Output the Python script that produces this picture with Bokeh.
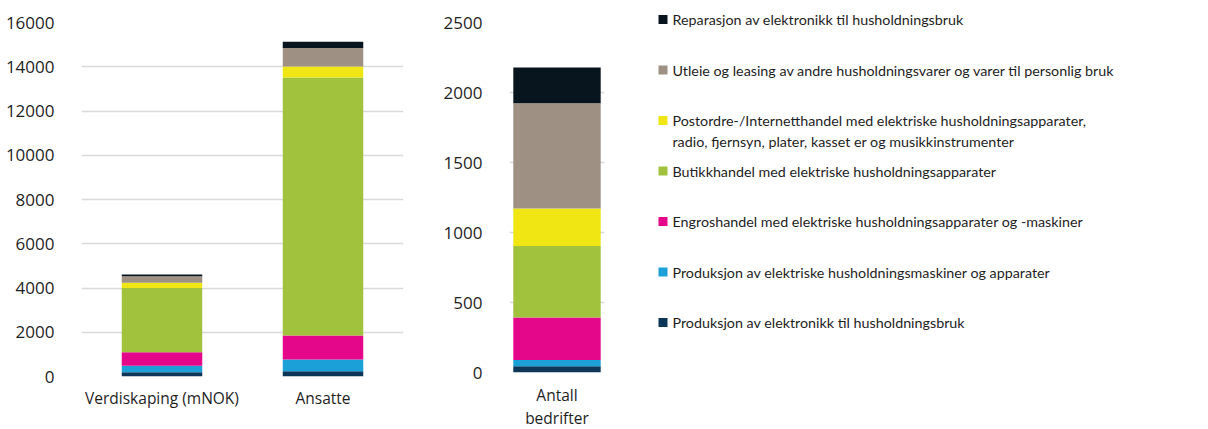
from bokeh.plotting import figure
from bokeh.models import ColumnDataSource, FixedTicker, Range1d
from bokeh.layouts import row
from bokeh.embed import file_html
from bokeh.resources import INLINE
from bokeh.core.properties import value

# ---- data (bottom of stack first) ----
series = [
    "Produksjon av elektronikk til husholdningsbruk",
    "Produksjon av elektriske husholdningsmaskiner og apparater",
    "Engroshandel med elektriske husholdningsapparater og -maskiner",
    "Butikkhandel med elektriske husholdningsapparater",
    "Postordre-/Internetthandel med elektriske husholdningsapparater,\nradio, fjernsyn, plater, kasset er og musikkinstrumenter",
    "Utleie og leasing av andre husholdningsvarer og varer til personlig bruk",
    "Reparasjon av elektronikk til husholdningsbruk",
]
colors = ["#0d3558", "#1ba1d8", "#e5078a", "#a1c23c", "#f0e614", "#9e9183", "#08151f"]

left_cats = ["Verdiskaping (mNOK)", "Ansatte"]
verdiskaping = [195, 290, 615, 2900, 240, 290, 80]
ansatte = [240, 530, 1080, 11660, 500, 840, 280]

right_cats = ["Antall\nbedrifter"]
bedrifter = [45, 45, 303, 511, 267, 753, 255]

left_ticks = [0, 2000, 4000, 6000, 8000, 10000, 12000, 14000, 16000]
right_ticks = [0, 500, 1000, 1500, 2000, 2500]

FONT = "Open Sans"
TXT = "#1e1e1e"
GRID = "#d9d9d9"
keys = [f"s{i}" for i in range(len(series))]


def style(p, ticks):
    p.outline_line_color = None
    p.xgrid.grid_line_color = None
    p.ygrid.grid_line_color = GRID
    p.ygrid.grid_line_width = 1.6
    p.yaxis.ticker = FixedTicker(ticks=ticks)
    for ax in (p.xaxis[0], p.yaxis[0]):
        ax.axis_line_color = None
        ax.major_tick_line_color = None
        ax.minor_tick_line_color = None
        ax.major_label_text_font = FONT
        ax.major_label_text_color = TXT
    p.yaxis.major_label_text_font_size = "17px"
    p.yaxis.major_label_standoff = 21
    p.xaxis.major_label_text_font_size = "15.5px"
    p.x_range.range_padding = 0


# ---- left chart ----
src_l = dict(x=left_cats)
for k, a, b in zip(keys, verdiskaping, ansatte):
    src_l[k] = [a, b]
p1 = figure(x_range=left_cats, y_range=Range1d(0, 16000), width=430, height=429,
            output_backend="svg", toolbar_location=None, frame_align=False,
            min_border_left=81, min_border_right=27, min_border_top=22, min_border_bottom=53)
p1.vbar_stack(keys, x="x", width=0.5, color=colors, line_color=None,
              source=ColumnDataSource(src_l))
style(p1, left_ticks)
p1.xaxis.major_label_standoff = 4

# ---- right chart ----
src_r = dict(x=right_cats)
for k, v in zip(keys, bedrifter):
    src_r[k] = [v]
p2 = figure(x_range=right_cats, y_range=Range1d(0, 2500), frame_width=95, frame_height=350,
            output_backend="svg", toolbar_location=None, frame_align=False,
            min_border_left=79, min_border_right=16, min_border_top=22, min_border_bottom=50)
p2.vbar_stack(keys, x="x", width=0.92, color=colors, line_color=None,
              source=ColumnDataSource(src_r))
style(p2, right_ticks)
p2.xaxis.major_label_standoff = 5
p2.xaxis.major_label_text_line_height = 1.05

# ---- legend panel ----
p3 = figure(x_range=Range1d(0, 580), y_range=Range1d(429, 0), width=580, height=429,
            output_backend="svg", toolbar_location=None, frame_align=False,
            min_border_left=0, min_border_right=0, min_border_top=0, min_border_bottom=0)
p3.axis.visible = False
p3.grid.visible = False
p3.outline_line_color = None

y0, step, line_gap = 19, 50.5, 21
order = list(range(len(series)))[::-1]
sq_x, sq_y, sq_c = [], [], []
tx, ty, tt = [], [], []
for row_i, si in enumerate(order):
    yy = y0 + row_i * step
    sq_x.append(42.5)
    sq_y.append(yy)
    sq_c.append(colors[si])
    for j, line in enumerate(series[si].split("\n")):
        tx.append(52)
        ty.append(yy + j * line_gap)
        tt.append(line)
p3.scatter(x=sq_x, y=sq_y, marker="square", size=9, color=sq_c, line_color=None)
p3.text(x=tx, y=ty, text=tt, text_font=value("Lato"), text_font_size="14.3px",
        text_baseline="middle", text_align="left", text_color=TXT)

layout = row(p1, p2, p3)
open("out.html", "w").write(file_html(layout, INLINE))
